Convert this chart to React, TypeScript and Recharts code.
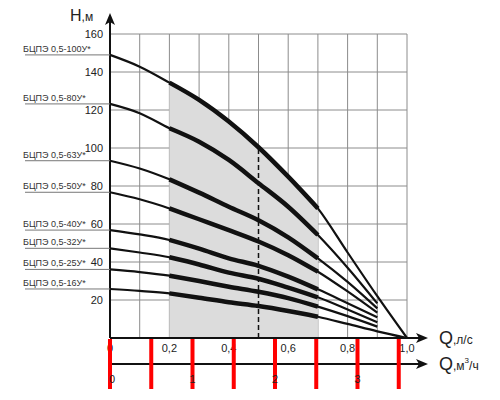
import React from 'react';
import { ComposedChart, Line, Area, XAxis, YAxis, CartesianGrid, ReferenceLine } from 'recharts';

// Flow, l/s
const flowLs = [0, 0.1, 0.2, 0.3, 0.4, 0.5, 0.6, 0.7, 0.8, 0.9, 1.0];
// Head, m, per pump model
const h100 = [149, 142.8, 134.4, 125.3, 113.9, 100.4, 84.9, 68.2, 45, 22, 0];
const h80 = [123.2, 118.3, 110.4, 103.3, 93.7, 81.5, 69.1, 54.2, 37, 18.2, null];
const h63 = [93.3, 89.2, 83.5, 76.5, 69.1, 62, 53, 41.9, 29.5, 15.6, null];
const h50 = [76.7, 73, 68.2, 62.5, 56.8, 50.8, 43.6, 34.9, 24.5, 13.3, null];
const h40 = [56.8, 54.5, 51.6, 47, 41.9, 38, 32.3, 25.6, 18.3, 10.9, null];
const h32 = [47.2, 45, 42.5, 38.7, 34.4, 31.2, 26.5, 21.4, 15, 8.3, null];
const h25 = [36.1, 34.7, 32.8, 30, 27, 24.3, 21, 16.5, 11.5, 6, null];
const h16 = [25.8, 24.8, 23.5, 21.2, 18.8, 16.8, 14.2, 11.2, 7.4, 3.5, 0];

const modelNames = [
  'БЦПЭ 0,5-100У*',
  'БЦПЭ 0,5-80У*',
  'БЦПЭ 0,5-63У*',
  'БЦПЭ 0,5-50У*',
  'БЦПЭ 0,5-40У*',
  'БЦПЭ 0,5-32У*',
  'БЦПЭ 0,5-25У*',
  'БЦПЭ 0,5-16У*',
];
const modelValues = [h100, h80, h63, h50, h40, h32, h25, h16];

const workStart = 0.2;
const workEnd = 0.7;
const dutyFlow = 0.5;

const headTicks = [0, 20, 40, 60, 80, 100, 120, 140, 160];
const flowTicks = [0, 0.1, 0.2, 0.3, 0.4, 0.5, 0.6, 0.7, 0.8, 0.9, 1.0];
const flowM3Ticks = [0, 0.5, 1, 1.5, 2, 2.5, 3, 3.5];
const m3PerLs = 3.6; // 1 л/с = 3.6 м³/ч

const inWork = (q: number) => q >= workStart - 1e-9 && q <= workEnd + 1e-9;

const data = flowLs.map((q, i) => {
  const row: any = { q, qm3: q * m3PerLs };
  modelValues.forEach((vals, k) => {
    row['s' + k] = vals[i];
    row['w' + k] = inWork(q) ? vals[i] : null;
  });
  row.shade = inWork(q) ? h100[i] : null;
  return row;
});

const INK = '#111';

const isMajor = (v: number) => Math.abs(v - Math.round(v)) < 1e-6;

const fmtFlow = (v: number) => {
  const t = Math.round(v * 10);
  if (t % 2 !== 0) return '';
  if (t === 0) return '0';
  return v.toFixed(1).replace('.', ',');
};

const XArrow = (props: any) => {
  const vb = props.viewBox || {};
  const { x, y, width } = vb;
  const end = x + width + 21;
  return (
    <g>
      <line x1={x + width} y1={y} x2={end - 8} y2={y} stroke={INK} strokeWidth={2} />
      <polygon points={`${end},${y} ${end - 12},${y - 5} ${end - 9},${y} ${end - 12},${y + 5}`} fill={INK} />
      {props.kind === 'ls' ? (
        <text x={end + 11} y={y + 6} fill="#222">
          <tspan fontSize={18}>Q</tspan>
          <tspan fontSize={12}>,л/с</tspan>
        </text>
      ) : (
        <text x={end + 11} y={y + 6} fill="#222">
          <tspan fontSize={18}>Q</tspan>
          <tspan fontSize={12}>,м</tspan>
          <tspan fontSize={8} dy={-7}>3</tspan>
          <tspan fontSize={12} dy={7}>/ч</tspan>
        </text>
      )}
    </g>
  );
};

const YArrow = (props: any) => {
  const vb = props.viewBox || {};
  const { x, y, width } = vb;
  const ax = x + width;
  const top = y - 21;
  return (
    <g>
      <line x1={ax} y1={y} x2={ax} y2={top + 8} stroke={INK} strokeWidth={2} />
      <polygon points={`${ax},${top} ${ax - 5},${top + 12} ${ax},${top + 9} ${ax + 5},${top + 12}`} fill={INK} />
      <text x={x} y={top + 8} fill="#222">
        <tspan fontSize={16}>H</tspan>
        <tspan fontSize={12}>,м</tspan>
      </text>
    </g>
  );
};

const M3Tick = (props: any) => {
  const { x, y, payload } = props;
  const v = payload.value;
  const major = isMajor(v);
  return (
    <g>
      <rect x={x - 2} y={y - 25} width={4} height={50} fill="red" />
      {major && (
        <text x={x + (v === 0 ? 2 : 0)} y={y + 19} textAnchor="middle" fontSize={11} fill="#222">
          {Math.round(v)}
        </text>
      )}
    </g>
  );
};

const makeNameDot = (name: string) => (props: any) => {
  const { cx, cy, index } = props;
  if (index !== 0 || cx == null || cy == null) return <g key={`d-${name}-${index}`} />;
  return (
    <g key={`d-${name}-${index}`}>
      <line x1={cx - 85} y1={cy} x2={cx} y2={cy} stroke="#777" strokeWidth={1} />
      <text x={cx - 87} y={cy - 3} fontSize={9} fill="#333">
        {name}
      </text>
    </g>
  );
};

export default function App() {
  return (
    <div
      style={{
        position: 'absolute',
        left: 0,
        top: 0,
        width: 500,
        height: 400,
        background: '#fff',
        fontFamily: '"Liberation Sans", Arial, sans-serif',
      }}
    >
      <ComposedChart width={500} height={400} data={data} margin={{ top: 34, right: 93, bottom: 6, left: 70 }}>
        <Area
          dataKey="shade"
          type="monotone"
          fill="#dcdcdc"
          fillOpacity={1}
          stroke="none"
          baseValue={0}
          isAnimationActive={false}
          connectNulls={false}
          dot={false}
          activeDot={false}
        />
        <CartesianGrid stroke="#8c8c8c" strokeWidth={1} />
        <XAxis
          dataKey="q"
          type="number"
          domain={[0, 1]}
          ticks={flowTicks}
          interval={0}
          height={26}
          tickLine={false}
          tickSize={0}
          tickMargin={6}
          axisLine={{ stroke: INK, strokeWidth: 2 }}
          tick={{ fontSize: 11, fill: '#222' }}
          tickFormatter={fmtFlow}
          label={(p: any) => <XArrow {...p} kind="ls" />}
        />
        <XAxis
          xAxisId="m3"
          dataKey="qm3"
          type="number"
          domain={[0, m3PerLs]}
          ticks={flowM3Ticks}
          interval={0}
          height={30}
          tickLine={false}
          tickSize={0}
          tickMargin={0}
          axisLine={{ stroke: INK, strokeWidth: 2 }}
          tick={(p: any) => <M3Tick {...p} />}
          label={(p: any) => <XArrow {...p} kind="m3" />}
        />
        <YAxis
          type="number"
          domain={[0, 160]}
          ticks={headTicks}
          interval={0}
          width={40}
          tickLine={false}
          tickSize={0}
          tickMargin={7}
          axisLine={{ stroke: INK, strokeWidth: 2 }}
          tick={{ fontSize: 11, fill: '#222' }}
          tickFormatter={(v: number) => (v === 0 ? '' : String(v))}
          label={(p: any) => <YArrow {...p} />}
        />
        <ReferenceLine
          segment={[
            { x: dutyFlow, y: 0 },
            { x: dutyFlow, y: h100[flowLs.indexOf(dutyFlow)] },
          ]}
          stroke={INK}
          strokeWidth={1.5}
          strokeDasharray="5 3"
        />
        {modelNames.map((name, k) => (
          <Line
            key={'s' + k}
            dataKey={'s' + k}
            type="monotone"
            stroke={INK}
            strokeWidth={2.2}
            dot={makeNameDot(name)}
            activeDot={false}
            connectNulls={false}
            isAnimationActive={false}
          />
        ))}
        {modelNames.map((name, k) => (
          <Line
            key={'w' + k}
            dataKey={'w' + k}
            type="monotone"
            stroke={INK}
            strokeWidth={4.5}
            dot={false}
            activeDot={false}
            connectNulls={false}
            isAnimationActive={false}
          />
        ))}
      </ComposedChart>
    </div>
  );
}
